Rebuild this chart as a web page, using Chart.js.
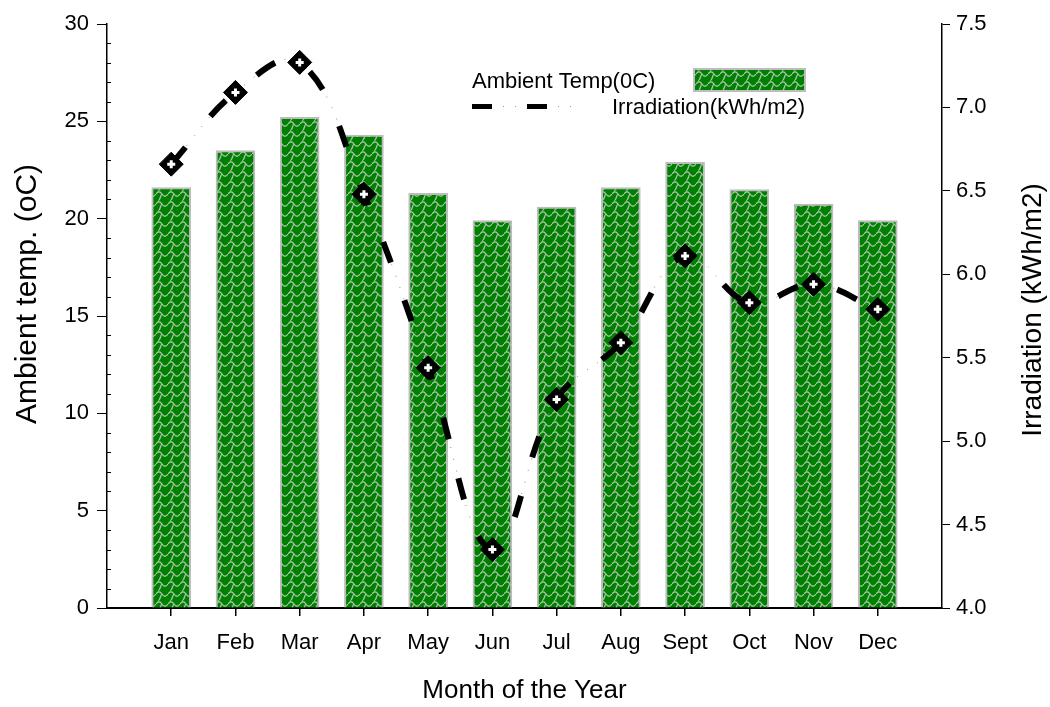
<!DOCTYPE html>
<html>
<head>
<meta charset="utf-8">
<script src="https://cdn.jsdelivr.net/npm/chart.js@4.4.1/dist/chart.umd.min.js"></script>
<style>
    html, body { margin: 0; padding: 0; background: #fff; }
</style>
</head>
<body>
<canvas id="chart" width="1050" height="707"></canvas>
<script>
// Chart values
const months = ['Jan', 'Feb', 'Mar', 'Apr', 'May', 'Jun', 'Jul', 'Aug', 'Sept', 'Oct', 'Nov', 'Dec'];
const ambientTemp = [21.6, 23.5, 25.2, 24.3, 21.3, 19.9, 20.6, 21.6, 22.9, 21.5, 20.75, 19.9];
const irradiation = [6.66, 7.09, 7.27, 6.48, 5.44, 4.35, 5.25, 5.59, 6.11, 5.83, 5.94, 5.79];
const tempRange = [0, 30, 5];
const irrRange = [4.0, 7.5, 0.5];
const legendLabels = ['Ambient Temp(0C)', 'Irradiation(kWh/m2)'];
const axisTitles = ['Month of the Year', 'Ambient temp. (oC)', 'Irradiation (kWh/m2)'];

const FONT = '"Liberation Sans", Arial, sans-serif';

// green bar fill with light wavy hatch
function makePattern() {
    const tile = document.createElement('canvas');
    tile.width = 12;
    tile.height = 10;
    const t = tile.getContext('2d');
    t.fillStyle = '#008000';
    t.fillRect(0, 0, 12, 10);
    t.strokeStyle = '#aac4aa';
    t.lineWidth = 1.3;
    t.beginPath();
    // wave across the tile
    t.moveTo(0, 4);
    t.bezierCurveTo(2, 1, 4, 1, 6, 4);
    t.bezierCurveTo(8, 7, 10, 7, 12, 4);
    // link down to the next row
    t.moveTo(6, 4);
    t.bezierCurveTo(4, 6, 5, 8, 3, 10);
    t.moveTo(3, 0);
    t.lineTo(2.4, 0.8);
    t.stroke();
    return document.getElementById('chart').getContext('2d').createPattern(tile, 'repeat');
}
const barFill = makePattern();

function xy(values) {
    return values.map((v, i) => ({ x: i + 1, y: v }));
}

// legend, side titles and minor ticks, drawn after the chart
const extras = {
    id: 'extras',
    afterDraw(chart) {
        const ctx = chart.ctx;
        const yScale = chart.scales.y;
        ctx.save();
        // minor ticks inside the left axis
        ctx.strokeStyle = '#000';
        ctx.lineWidth = 1;
        for (let v = tempRange[0] + 1; v < tempRange[1]; v++) {
            if (v % tempRange[2] === 0) continue;
            const py = Math.round(yScale.getPixelForValue(v)) + 0.5;
            ctx.beginPath();
            ctx.moveTo(yScale.right, py);
            ctx.lineTo(yScale.right + 4, py);
            ctx.stroke();
        }

        // vertical axis titles
        ctx.fillStyle = '#000';
        ctx.textAlign = 'center';
        ctx.textBaseline = 'middle';
        ctx.font = '30px ' + FONT;
        ctx.save();
        ctx.translate(28, 294);
        ctx.rotate(-Math.PI / 2);
        ctx.fillText(axisTitles[1], 0, 0);
        ctx.restore();
        ctx.font = '28px ' + FONT;
        ctx.save();
        ctx.translate(1033, 310);
        ctx.rotate(-Math.PI / 2);
        ctx.fillText(axisTitles[2], 0, 0);
        ctx.restore();

        // legend
        ctx.textAlign = 'left';
        ctx.textBaseline = 'alphabetic';
        ctx.font = '22px ' + FONT;
        ctx.fillText(legendLabels[0], 472, 88);
        ctx.fillStyle = barFill;
        ctx.fillRect(694, 69, 111, 22);
        ctx.strokeStyle = '#bdbdbd';
        ctx.lineWidth = 2;
        ctx.strokeRect(694, 69, 111, 22);

        ctx.fillStyle = '#000';
        ctx.fillRect(472, 104, 20, 5);
        ctx.fillRect(527, 104, 20, 5);
        ctx.fillStyle = '#999';
        [503, 515, 558, 570].forEach(px => ctx.fillRect(px, 106, 1, 1));
        ctx.fillStyle = '#000';
        ctx.fillText(legendLabels[1], 612, 114);
        ctx.restore();
    }
};

const tickFont = { family: FONT, size: 22 };
const titleFont = { family: FONT, size: 26 };

new Chart(document.getElementById('chart'), {
    data: {
        datasets: [
            {
                type: 'bar',
                label: legendLabels[0],
                data: xy(ambientTemp),
                yAxisID: 'y',
                backgroundColor: barFill,
                borderColor: '#bdbdbd',
                borderWidth: 2,
                barThickness: 39,
                order: 4
            },
            {
                type: 'line',
                label: 'dots',
                data: xy(irradiation),
                yAxisID: 'y1',
                borderColor: '#888',
                borderWidth: 1,
                borderDash: [1, 11],
                tension: 0.4,
                pointRadius: 0,
                fill: false,
                order: 3
            },
            {
                type: 'line',
                label: legendLabels[1],
                data: xy(irradiation),
                yAxisID: 'y1',
                borderColor: '#000',
                borderWidth: 6,
                borderDash: [22, 40],
                borderCapStyle: 'butt',
                tension: 0.4,
                pointStyle: 'rectRot',
                pointRadius: 12,
                pointBackgroundColor: '#000',
                pointBorderColor: '#000',
                pointBorderWidth: 1,
                fill: false,
                order: 2
            },
            {
                type: 'line',
                label: 'cross',
                data: xy(irradiation),
                yAxisID: 'y1',
                showLine: false,
                pointStyle: 'cross',
                pointRadius: 4,
                pointBorderColor: '#fff',
                pointBorderWidth: 3,
                order: 1
            }
        ]
    },
    options: {
        responsive: false,
        animation: false,
        events: [],
        layout: { padding: { top: 24, left: 0, right: 0, bottom: 0 } },
        plugins: {
            legend: { display: false },
            tooltip: { enabled: false }
        },
        scales: {
            x: {
                type: 'linear',
                offset: false,
                min: 0,
                max: months.length + 1,
                afterBuildTicks: scale => {
                    scale.ticks = months.map((m, i) => ({ value: i + 1 }));
                },
                afterFit: scale => { scale.height = 99; },
                grid: { offset: false, drawOnChartArea: false, drawTicks: true, tickLength: 8, color: '#000', lineWidth: 1.5 },
                border: { display: true, color: '#000', width: 2 },
                ticks: {
                    color: '#000',
                    font: tickFont,
                    padding: 14,
                    maxRotation: 0,
                    autoSkip: false,
                    callback: v => months[v - 1] || ''
                },
                title: {
                    display: true,
                    text: axisTitles[0],
                    color: '#000',
                    font: titleFont,
                    padding: { top: 0, bottom: 1 }
                }
            },
            y: {
                position: 'left',
                min: tempRange[0],
                max: tempRange[1],
                afterFit: scale => { scale.width = 107; },
                grid: { drawOnChartArea: false, drawTicks: true, tickLength: 10, color: '#000' },
                border: { display: true, color: '#000', width: 1.5 },
                ticks: { stepSize: tempRange[2], color: '#000', font: tickFont, padding: 8 }
            },
            y1: {
                position: 'right',
                min: irrRange[0],
                max: irrRange[1],
                afterFit: scale => { scale.width = 108; },
                grid: { drawOnChartArea: false, drawTicks: true, tickLength: 8, color: '#000' },
                border: { display: true, color: '#000', width: 1.5 },
                ticks: {
                    stepSize: irrRange[2],
                    color: '#000',
                    font: tickFont,
                    padding: 6,
                    callback: v => v.toFixed(1)
                }
            }
        }
    },
    plugins: [extras]
});
</script>
</body>
</html>
